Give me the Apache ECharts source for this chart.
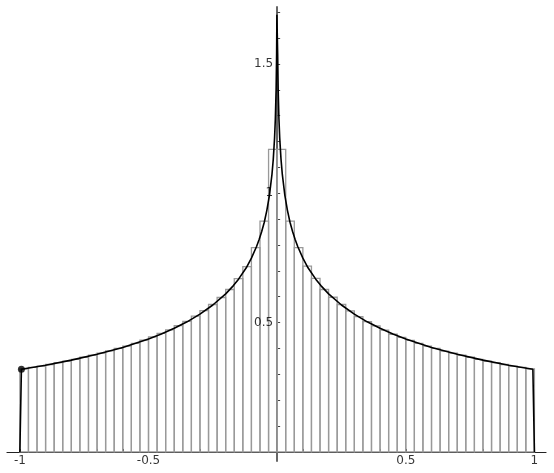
<!DOCTYPE html>
<html>
<head>
<meta charset="utf-8">
<script src="https://cdn.jsdelivr.net/npm/echarts@6/dist/echarts.min.js"></script>
<style>
html,body{margin:0;padding:0;background:#fff;}
#chart{width:554px;height:473px;}
</style>
</head>
<body>
<div id="chart"></div>
<script>
// Histogram: 60 bins of equal width over [-1, 1]
const binStart = -1;
const binWidth = 1 / 30;
const binHeights = [
  0.321, 0.327, 0.332, 0.338, 0.345, 0.351, 0.358, 0.366, 0.374, 0.382,
  0.391, 0.400, 0.409, 0.420, 0.432, 0.445, 0.458, 0.472, 0.488, 0.505,
  0.525, 0.546, 0.570, 0.597, 0.628, 0.670, 0.716, 0.790, 0.892, 1.170,
  1.170, 0.892, 0.790, 0.718, 0.671, 0.628, 0.598, 0.570, 0.545, 0.523,
  0.504, 0.487, 0.471, 0.455, 0.443, 0.431, 0.420, 0.409, 0.400, 0.390,
  0.382, 0.374, 0.366, 0.358, 0.351, 0.345, 0.338, 0.332, 0.327, 0.321
];

// Density curve samples
const curveX = [
  -1, -0.994, -0.9, -0.8, -0.7, -0.6, -0.5, -0.45, -0.4, -0.35, -0.3, -0.25,
  -0.2, -0.17, -0.15, -0.12, -0.1, -0.08, -0.07, -0.06, -0.05, -0.04, -0.03,
  -0.02, -0.015, -0.01, -0.007, -0.004, -0.002, -0.001,
  0.001, 0.002, 0.004, 0.007, 0.01, 0.015, 0.02, 0.03, 0.04, 0.05, 0.06, 0.07,
  0.08, 0.1, 0.12, 0.15, 0.17, 0.2, 0.25, 0.3, 0.35, 0.4, 0.45, 0.5, 0.6, 0.7,
  0.8, 0.9, 0.994, 1
];
const curveY = [
  0, 0.320, 0.335, 0.355, 0.378, 0.404, 0.437, 0.456, 0.478, 0.503, 0.533, 0.568,
  0.611, 0.643, 0.668, 0.712, 0.749, 0.794, 0.821, 0.852, 0.888, 0.934, 0.992,
  1.074, 1.132, 1.214, 1.287, 1.400, 1.540, 1.690,
  1.690, 1.540, 1.400, 1.287, 1.214, 1.132, 1.074, 0.992, 0.934, 0.888, 0.852, 0.821,
  0.794, 0.749, 0.712, 0.668, 0.643, 0.611, 0.568, 0.533, 0.503, 0.478, 0.456, 0.437, 0.404, 0.378,
  0.355, 0.335, 0.320, 0
];

// Marked point
const dotPoint = [[-0.994, 0.320]];

// Tick labels and tick positions
const xLabelValues = [-1, -0.5, 0.5, 1];
const xTickValues = [-1, -0.9, -0.8, -0.7, -0.6, -0.5, -0.4, -0.3, -0.2, -0.1,
  0.1, 0.2, 0.3, 0.4, 0.5, 0.6, 0.7, 0.8, 0.9, 1];
const yLabelValues = [0.5, 1, 1.5];
const yTickValues = [0.1, 0.2, 0.3, 0.4, 0.5, 0.6, 0.7, 0.8, 0.9, 1,
  1.1, 1.2, 1.3, 1.4, 1.5, 1.6, 1.7];

const binData = binHeights.map((h, i) => [binStart + i * binWidth, binStart + (i + 1) * binWidth, h]);
const curveData = curveX.map((x, i) => [x, curveY[i]]);
const xLabelData = xLabelValues.map(v => [v, 0]);
const yLabelData = yLabelValues.map(v => [0, v]);

const labelFont = {fontFamily: 'DejaVu Sans', fontSize: 12, color: '#000'};

const chart = echarts.init(document.getElementById('chart'), null, {renderer: 'canvas'});
chart.setOption({
  animation: false,
  backgroundColor: '#ffffff',
  grid: {left: 7, width: 539, top: 7, height: 454, containLabel: false, outerBoundsMode: 'none'},
  xAxis: {
    type: 'value',
    min: -1.05,
    max: 1.045,
    axisLine: {show: true, onZero: true, lineStyle: {color: '#222', width: 1.2}},
    axisTick: {show: true, inside: true, length: 3, customValues: xTickValues, lineStyle: {color: '#222', width: 1}},
    axisLabel: {show: false},
    splitLine: {show: false}
  },
  yAxis: {
    type: 'value',
    min: -0.035,
    max: 1.72,
    axisLine: {show: true, onZero: true, lineStyle: {color: '#666', width: 2}},
    axisTick: {show: true, inside: true, length: 3, customValues: yTickValues, lineStyle: {color: '#444', width: 1}},
    axisLabel: {show: false},
    splitLine: {show: false}
  },
  series: [
    {
      type: 'custom',
      data: binData,
      encode: {x: [0, 1], y: 2},
      z: 2,
      silent: true,
      renderItem: function (params, api) {
        const p0 = api.coord([api.value(0), 0]);
        const p1 = api.coord([api.value(1), api.value(2)]);
        return {
          type: 'rect',
          shape: {x: p0[0], y: p1[1], width: p1[0] - p0[0], height: p0[1] - p1[1]},
          style: {fill: 'none', stroke: '#999', lineWidth: 1.3}
        };
      }
    },
    {
      type: 'line',
      data: curveData,
      symbol: 'none',
      z: 4,
      silent: true,
      lineStyle: {color: '#000', width: 1.6}
    },
    {
      type: 'scatter',
      data: dotPoint,
      symbolSize: 7,
      z: 5,
      silent: true,
      itemStyle: {color: '#000'}
    },
    {
      type: 'scatter',
      data: xLabelData,
      symbolSize: 0,
      z: 6,
      silent: true,
      label: Object.assign({show: true, position: 'bottom', distance: 3,
        formatter: p => String(p.value[0])}, labelFont)
    },
    {
      type: 'scatter',
      data: yLabelData,
      symbolSize: 0,
      z: 6,
      silent: true,
      label: Object.assign({show: true, position: 'left', distance: 4,
        formatter: p => String(p.value[1])}, labelFont)
    }
  ]
});
</script>
</body>
</html>
